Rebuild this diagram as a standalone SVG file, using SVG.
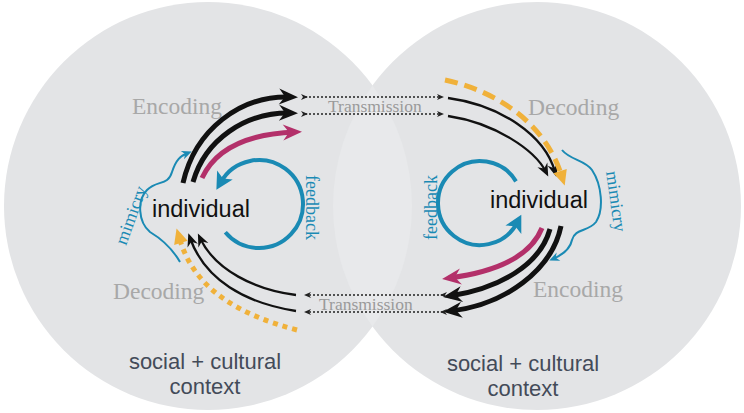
<svg xmlns="http://www.w3.org/2000/svg" width="744" height="413" viewBox="0 0 744 413">
<style>
.circ{fill:#e3e4e6}
.lens{fill:#e8e9eb}
.gray{font-family:"Liberation Serif",serif;fill:#a8a8a8}
.big{font-size:23.5px}
.trans{font-size:17.5px;fill:#9a9a9a}
.blue-t{font-family:"Liberation Serif",serif;font-size:18px;fill:#1a8ab4}
.ind{font-family:"Liberation Sans",Arial,sans-serif;font-size:23.5px;fill:#111}
.ctx{font-family:"Liberation Sans",Arial,sans-serif;font-size:22px;fill:#434b59;text-anchor:middle}
.thick{fill:none;stroke:#111;stroke-width:5}
.pink{fill:none;stroke:#b3306a;stroke-width:5}
.thin{fill:none;stroke:#111;stroke-width:2.3}
.dot{fill:none;stroke:#222;stroke-width:1.3;stroke-dasharray:2 2}
.fb{fill:none;stroke:#1a8ab4;stroke-width:4}
.mim{fill:none;stroke:#1a8ab4;stroke-width:2}
.yel1{fill:none;stroke:#f0b13a;stroke-width:5;stroke-dasharray:5 5}
.yel2{fill:none;stroke:#f0b13a;stroke-width:5;stroke-dasharray:13 7}
</style>
<defs>
<marker id="mBig" markerUnits="userSpaceOnUse" markerWidth="40" markerHeight="40" viewBox="-20 -20 40 40" refX="0" refY="0" orient="auto" overflow="visible"><path d="M7,0 L-12,-8 L-6,0 L-12,8 Z" fill="#111"/></marker>
<marker id="mPink" markerUnits="userSpaceOnUse" markerWidth="40" markerHeight="40" viewBox="-20 -20 40 40" refX="0" refY="0" orient="auto" overflow="visible"><path d="M7,0 L-12,-8 L-6,0 L-12,8 Z" fill="#b3306a"/></marker>
<marker id="mThin" markerUnits="userSpaceOnUse" markerWidth="30" markerHeight="30" viewBox="-15 -15 30 30" refX="0" refY="0" orient="auto" overflow="visible"><path d="M5,0 L-8,-5.5 L-4,0 L-8,5.5 Z" fill="#111"/></marker>
<marker id="mDot" markerUnits="userSpaceOnUse" markerWidth="20" markerHeight="20" viewBox="-10 -10 20 20" refX="0" refY="0" orient="auto" overflow="visible"><path d="M3,0 L-4,-3 L-2,0 L-4,3 Z" fill="#222"/></marker>
<marker id="mFb" markerUnits="userSpaceOnUse" markerWidth="40" markerHeight="40" viewBox="-20 -20 40 40" refX="0" refY="0" orient="auto" overflow="visible"><path d="M9,0 L-8,-9 L-4,0 L-8,9 Z" fill="#1a8ab4"/></marker>
<marker id="mMim" markerUnits="userSpaceOnUse" markerWidth="20" markerHeight="20" viewBox="-10 -10 20 20" refX="0" refY="0" orient="auto" overflow="visible"><path d="M4,0 L-6,-4.5 L-3,0 L-6,4.5 Z" fill="#1a8ab4"/></marker>
<marker id="mYel" markerUnits="userSpaceOnUse" markerWidth="40" markerHeight="40" viewBox="-20 -20 40 40" refX="0" refY="0" orient="auto" overflow="visible"><path d="M12,0 L-3,-7 L-3,7 Z" fill="#f0b13a"/></marker>
</defs>

<g id="contexts">
<circle class="circ" cx="208" cy="206" r="204"/>
<circle class="circ" cx="537" cy="206" r="204"/>
<path class="lens" d="M372.5,85.4 A204,204 0 0 1 372.5,326.6 A204,204 0 0 1 372.5,85.4 Z"/>
</g>

<g id="labels">
<text class="gray big" x="132" y="114">Encoding</text>
<text class="gray big" x="113" y="299">Decoding</text>
<text class="gray big" x="528" y="115">Decoding</text>
<text class="gray big" x="533" y="297">Encoding</text>
<text class="ctx" x="205" y="369">social + cultural</text>
<text class="ctx" x="205" y="394">context</text>
<text class="ctx" x="523" y="371">social + cultural</text>
<text class="ctx" x="523" y="396">context</text>
</g>

<g id="transmission-top">
<text class="gray trans" x="328" y="112">Transmission</text>
</g>
<g id="transmission-bottom">
<text class="gray trans" x="319" y="310">Transmission</text>
</g>

<g id="individual-left">
<text class="ind" x="152" y="217">individual</text>
</g>
<g id="individual-right">
<text class="ind" x="490" y="208">individual</text>
</g>

<g id="feedback-left">
<path class="fb" d="M225.3,232.3 A44,44 0 1 0 220.9,182" marker-end="url(#mFb)"/>
<text class="blue-t" transform="translate(306,175) rotate(90)">feedback</text>
</g>
<g id="feedback-right">
<path class="fb" d="M516,181.4 A42,42 0 1 0 517.1,222.7" marker-end="url(#mFb)"/>
<text class="blue-t" transform="translate(437,240) rotate(-90)">feedback</text>
</g>

<g id="mimicry-left">
<path class="mim" d="M180,262 C172,248 160,238 150,232 C138,222 137,200 147,190 C157,180 168,186 172,172 C176,160 180,156 188,153" marker-end="url(#mMim)"/>
<text class="blue-t" transform="translate(126,246) rotate(-70)">mimicry</text>
</g>
<g id="mimicry-right">
<path class="mim" d="M562,150 C570,160 585,160 592,170 C602,185 604,210 596,222 C588,232 575,228 572,240 C570,250 562,255 553,259" marker-end="url(#mMim)"/>
<text class="blue-t" transform="translate(606,172) rotate(82)">mimicry</text>
</g>

<g id="connectors">
<path class="thick" d="M183,183 C195,130 240,95 291,97" marker-end="url(#mBig)"/>
<path class="thick" d="M193,182 C205,140 245,112 291,113" marker-end="url(#mBig)"/>
<path class="pink" d="M202,178 C215,150 245,134 295,132" marker-end="url(#mPink)"/>
<path class="dot" d="M305,97 L441,97" marker-start="url(#mDot)" marker-end="url(#mDot)"/>
<path class="dot" d="M305,114 L441,114" marker-start="url(#mDot)" marker-end="url(#mDot)"/>
<path class="thin" d="M448,98 C500,105 545,135 555,172" marker-end="url(#mThin)"/>
<path class="thin" d="M448,116 C495,123 535,150 546,172" marker-end="url(#mThin)"/>
<path class="yel2" d="M445,80 C500,92 545,125 561,174" marker-end="url(#mYel)"/>
<path class="thick" d="M561,226 C552,270 505,305 450,311" marker-end="url(#mBig)"/>
<path class="thick" d="M550,229 C540,265 500,288 450,296" marker-end="url(#mBig)"/>
<path class="pink" d="M542,228 C530,258 495,272 449,278" marker-end="url(#mPink)"/>
<path class="dot" d="M443,295 L307,295" marker-start="url(#mDot)" marker-end="url(#mDot)"/>
<path class="dot" d="M443,312 L307,312" marker-start="url(#mDot)" marker-end="url(#mDot)"/>
<path class="thin" d="M296,295 C255,290 215,270 200,238" marker-end="url(#mThin)"/>
<path class="thin" d="M296,311 C245,303 205,280 190,238" marker-end="url(#mThin)"/>
<path class="yel1" d="M297,330 C240,315 195,290 180,240" marker-end="url(#mYel)"/>
</g>
</svg>
